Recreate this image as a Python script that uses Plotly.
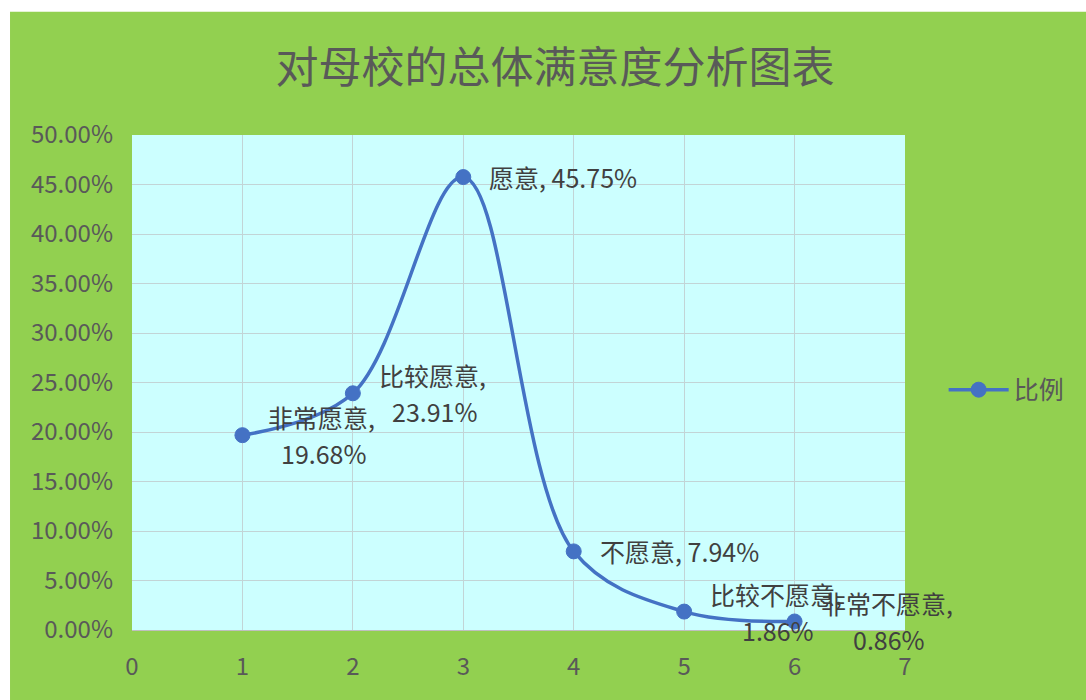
import plotly.graph_objects as go

categories = ["非常愿意", "比较愿意", "愿意", "不愿意", "比较不愿意", "非常不愿意"]
x_values = [1, 2, 3, 4, 5, 6]
ratios = [0.1968, 0.2391, 0.4575, 0.0794, 0.0186, 0.0086]
label_lines = [["非常愿意,", "19.68%"], ["比较愿意,", "23.91%"], ["愿意, 45.75%"],
               ["不愿意, 7.94%"], ["比较不愿意,", "1.86%"], ["非常不愿意,", "0.86%"]]
series_name = "比例"
title_text = "对母校的总体满意度分析图表"

FONT = "Noto Sans CJK SC"
TXT = "#595959"
LBL = "#404040"
LINE = "#4472C4"
LSIZE = 25
GAP = 24
LINE_SP = 36


def est_width(s, size):
    w = 0
    for ch in s:
        if ord(ch) > 0x2E80:
            w += size
        elif ch in ",. ":
            w += 0.3 * size
        else:
            w += 0.56 * size
    return w + 0.3 * size  # trailing space kept by the wrap


fig = go.Figure()
fig.add_trace(go.Scatter(
    x=x_values, y=ratios, name=series_name, mode="lines+markers",
    line=dict(color=LINE, width=3.5, shape="spline", smoothing=1.0),
    marker=dict(size=15, color=LINE, line=dict(color=LINE, width=1)),
    hovertext=categories,
))

for xv, yv, lines in zip(x_values, ratios, label_lines):
    if len(lines) == 1:
        fig.add_annotation(x=xv, y=yv, text=lines[0], showarrow=False, xanchor="left",
                           yanchor="middle", xshift=GAP,
                           font=dict(family=FONT, size=LSIZE, color=LBL))
    else:
        top, bottom = lines
        fig.add_annotation(x=xv, y=yv, text=top, showarrow=False, xanchor="left",
                           yanchor="middle", xshift=GAP, yshift=LINE_SP / 2,
                           font=dict(family=FONT, size=LSIZE, color=LBL))
        fig.add_annotation(x=xv, y=yv, text=bottom, showarrow=False, xanchor="center",
                           yanchor="middle", xshift=GAP + est_width(top, LSIZE) / 2,
                           yshift=-LINE_SP / 2,
                           font=dict(family=FONT, size=LSIZE, color=LBL))

fig.update_layout(
    width=1086, height=700,
    margin=dict(l=132, r=181, t=135, b=70),
    paper_bgcolor="#92D050",
    plot_bgcolor="#CCFFFF",
    title=dict(text=title_text, x=0.511, xanchor="center", y=0.903, yanchor="middle",
               font=dict(family=FONT, size=43, color=TXT)),
    showlegend=True,
    legend=dict(x=1.05, xanchor="left", y=0.485, yanchor="middle", itemwidth=60,
                bgcolor="rgba(0,0,0,0)", font=dict(family=FONT, size=25, color=TXT)),
    shapes=[
        dict(type="rect", xref="paper", yref="paper", x0=-0.2, x1=1.3, y0=1.249, y1=1.4,
             fillcolor="white", line=dict(width=0), layer="above"),
        dict(type="rect", xref="paper", yref="paper", x0=-0.2, x1=-0.1578, y0=-0.2, y1=1.4,
             fillcolor="white", line=dict(width=0), layer="above"),
    ],
)
fig.update_xaxes(range=[0, 7], dtick=1, tick0=0, showgrid=True, gridcolor="#C2D4D6",
                 gridwidth=1, zeroline=False, showline=True, linecolor="#BFBFBF",
                 ticks="", ticklabelstandoff=15,
                 tickfont=dict(family=FONT, size=24, color=TXT))
fig.update_yaxes(range=[0, 0.5], dtick=0.05, tick0=0, tickformat=".2%", showgrid=True,
                 gridcolor="#C2D4D6", gridwidth=1, zeroline=False, showline=False,
                 ticks="", ticklabelstandoff=18,
                 tickfont=dict(family=FONT, size=24, color=TXT))

fig.write_html("out.html")
